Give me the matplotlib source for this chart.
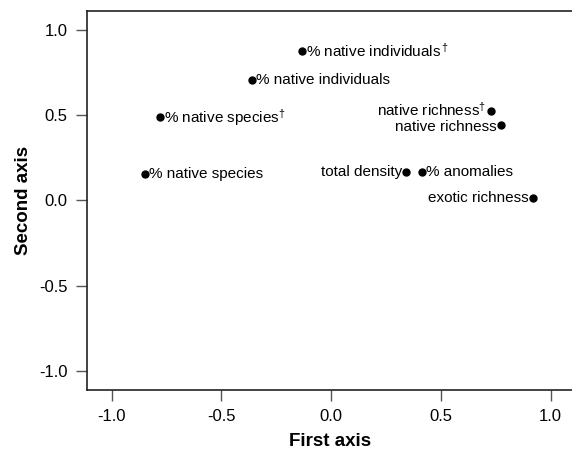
import matplotlib
matplotlib.use("Agg")
import matplotlib.pyplot as plt

plt.rcParams['font.family'] = ['Liberation Sans', 'DejaVu Sans']
plt.rcParams['mathtext.fontset'] = 'custom'
plt.rcParams['mathtext.rm'] = 'Liberation Sans'
plt.rcParams['mathtext.it'] = 'Liberation Sans'

labels = ["% native individuals$^{\\,†}$", "% native individuals", "% native species$^{†}$",
          "% native species", "native richness$^{†}$", "native richness",
          "total density", "% anomalies", "exotic richness"]
x_vals = [-0.132, -0.362, -0.779, -0.849, 0.726, 0.773, 0.341, 0.414, 0.919]
y_vals = [0.879, 0.707, 0.487, 0.158, 0.523, 0.442, 0.166, 0.166, 0.016]
label_side = ["right", "right", "right", "right", "left", "left", "left", "right", "left"]
label_dy = [0, 0, 0, 0, 1.2, -1.2, 0, 0, 0]
ticks = [-1.0, -0.5, 0.0, 0.5, 1.0]
tick_labels = ["-1.0", "-0.5", "0.0", "0.5", "1.0"]

fig = plt.figure(figsize=(5.72, 4.58), dpi=100)
ax = fig.add_axes([0.1526, 0.1485, 0.8474, 0.8275])
ax.plot(x_vals, y_vals, 'o', color='black', markersize=5, linestyle='none')
for xv, yv, lab, side, dy in zip(x_vals, y_vals, labels, label_side, label_dy):
    if side == "right":
        ax.annotate(lab, (xv, yv), xytext=(3, dy), textcoords='offset points',
                    ha='left', va='center', fontsize=11)
    else:
        ax.annotate(lab, (xv, yv), xytext=(-3, dy), textcoords='offset points',
                    ha='right', va='center', fontsize=11)

ax.set_xlim(-1.111, 1.097)
ax.set_ylim(-1.111, 1.111)
ax.set_xticks(ticks)
ax.set_xticklabels(tick_labels)
ax.set_yticks(ticks)
ax.set_yticklabels(tick_labels)
ax.spines['right'].set_visible(False)
for s in ['left', 'bottom', 'top']:
    ax.spines[s].set_linewidth(1.2)
    ax.spines[s].set_color('#222222')
ax.tick_params(axis='both', direction='out', length=8, width=1.0, color='#555555',
               labelsize=12, pad=6)
ax.set_xlabel("First axis", fontsize=13.5, fontweight='bold', labelpad=6)
ax.set_ylabel("Second axis", fontsize=13.5, fontweight='bold', labelpad=5)
fig.savefig("out.png", dpi=100)
